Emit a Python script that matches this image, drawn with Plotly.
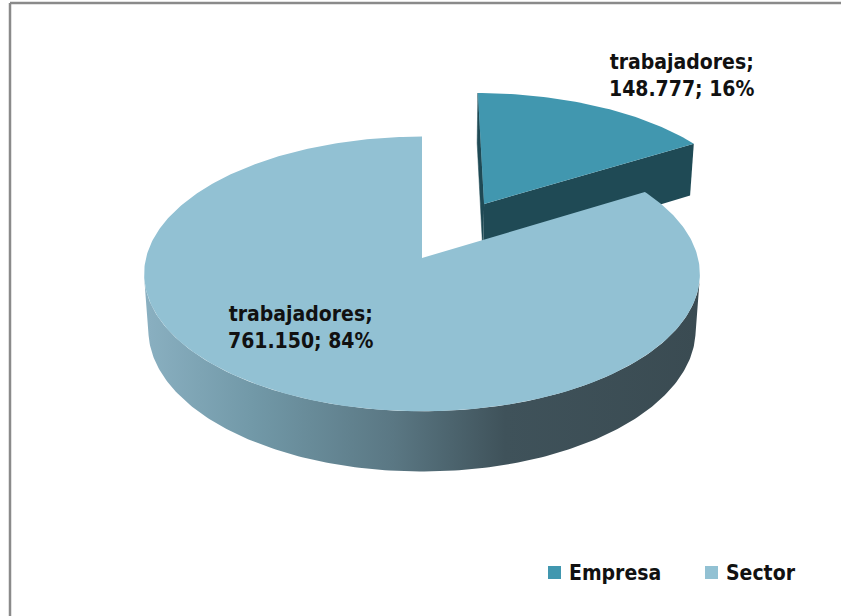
import numpy as np
import plotly.graph_objects as go

# datos
categorias = ["Empresa", "Sector"]
valores = [148777, 761150]
etiquetas = ["trabajadores;<br>148.777; 16%", "trabajadores;<br>761.150; 84%"]

colores_top = ["#4197af", "#92c1d3"]
color_cara_empresa = "#1f4a55"

# camara de la tarta 3D (perspectiva simple)
CX, CY = 422, 258
ALPHA = np.radians(29.4)
S, C = np.sin(ALPHA), np.cos(ALPHA)
D = 7.5
F = 2070
H = 0.235
EXPLODE = 0.48


def proj(X, Y, Z):
    depth = D - (Y * S + Z * C)
    sx = CX + F * X / depth
    sy = CY - F * (Y * C - Z * S) / depth
    return sx, sy


def rim(theta_deg, y=0.0, off=(0.0, 0.0)):
    t = np.radians(theta_deg)
    X = np.cos(t) + off[0]
    Z = -np.sin(t) + off[1]
    return proj(X, y * np.ones_like(X), Z)


total = sum(valores)
frac_emp = valores[0] / total
ang_fin = 90 - 360 * frac_emp  # Empresa: de 90 a ang_fin (sentido horario)

fig = go.Figure()

# ---------- Empresa (desplazada hacia atras) ----------
mid = np.radians((90 + ang_fin) / 2)
off = (EXPLODE * np.cos(mid), -EXPLODE * np.sin(mid))

# cara lateral fina en 90 grados
ax0, ay0 = proj(off[0], 0, off[1])
ax1, ay1 = proj(off[0], -H, off[1])
bx0, by0 = rim(np.array([90.0]), 0, off)
bx1, by1 = rim(np.array([90.0]), -H, off)
fig.add_trace(go.Scatter(
    x=[ax0, bx0[0], bx1[0], ax1], y=[ay0, by0[0], by1[0], ay1],
    fill="toself", mode="lines", line=dict(width=0.5, color=color_cara_empresa),
    fillcolor=color_cara_empresa, showlegend=False, hoverinfo="skip"))

# cara de corte en ang_fin
cx0, cy0 = rim(np.array([ang_fin]), 0, off)
cx1, cy1 = rim(np.array([ang_fin]), -H, off)
fig.add_trace(go.Scatter(
    x=[ax0, cx0[0], cx1[0], ax1], y=[ay0, cy0[0], cy1[0], ay1],
    fill="toself", mode="lines", line=dict(width=0),
    fillcolor=color_cara_empresa, showlegend=False, hoverinfo="skip"))

# superficie superior
th = np.linspace(90, ang_fin, 60)
rx, ry = rim(th, 0, off)
fig.add_trace(go.Scatter(
    x=np.concatenate([[ax0], rx, [ax0]]), y=np.concatenate([[ay0], ry, [ay0]]),
    fill="toself", mode="lines", line=dict(width=0),
    fillcolor=colores_top[0], showlegend=False, hoverinfo="skip"))

# ---------- Sector ----------
lim = np.degrees(np.arcsin(1 / (D * C)))
th_side = np.linspace(-180 + lim, -lim, 200)
tx, ty = rim(th_side, 0)
bx, by = rim(th_side, -H)
side_x = np.concatenate([tx, bx[::-1]])
side_y = np.concatenate([ty, by[::-1]])
fig.add_trace(go.Scatter(
    x=side_x, y=side_y, fill="toself", mode="lines", line=dict(width=0),
    fillgradient=dict(
        type="horizontal", start=float(side_x.min()), stop=float(side_x.max()),
        colorscale=[[0, "#8ab0c1"], [0.2, "#7198a7"], [0.45, "#5a7783"],
                    [0.65, "#3f525a"], [1, "#3a4b52"]]),
    showlegend=False, hoverinfo="skip"))

th = np.linspace(ang_fin, -270, 400)
sx, sy = rim(th, 0)
ox, oy = proj(0, 0, 0)
fig.add_trace(go.Scatter(
    x=np.concatenate([[ox], sx, [ox]]), y=np.concatenate([[oy], sy, [oy]]),
    fill="toself", mode="lines", line=dict(width=0),
    fillcolor=colores_top[1], showlegend=False, hoverinfo="skip"))

# leyenda hecha a mano (cuadro + texto)
fuente = dict(family="DejaVu Sans Condensed", size=21, color="#111111")
leg_x = [548, 705]
for nombre, col, lx in zip(categorias, colores_top, leg_x):
    fig.add_shape(type="rect", x0=lx, x1=lx + 13, y0=566, y1=579,
                  fillcolor=col, line=dict(width=0))
    fig.add_annotation(x=lx + 19, y=573, text="<b>" + nombre + "</b>", showarrow=False,
                       xanchor="left", yanchor="middle", font=fuente)

# etiquetas de datos
fig.add_annotation(x=681, y=75, text="<b>" + etiquetas[0] + "</b>", showarrow=False,
                   font=fuente, align="center")
fig.add_annotation(x=300, y=327, text="<b>" + etiquetas[1] + "</b>", showarrow=False,
                   font=fuente, align="center")

# marco (solo se ven los bordes izquierdo y superior)
fig.add_shape(type="line", x0=10, x1=10, y0=3, y1=616,
              line=dict(color="#8a8a8a", width=2.5), layer="below")
fig.add_shape(type="line", x0=10, x1=841, y0=3, y1=3,
              line=dict(color="#8a8a8a", width=2.5), layer="below")

fig.update_layout(
    width=842, height=616,
    margin=dict(l=0, r=0, t=0, b=0),
    paper_bgcolor="white", plot_bgcolor="white",
    xaxis=dict(range=[0, 842], visible=False, fixedrange=True),
    yaxis=dict(range=[616, 0], visible=False, fixedrange=True),
    showlegend=False,
)

fig.write_html(
    "out.html", config={"displayModeBar": False},
    post_script="document.body.style.margin='0';"
                "document.body.style.overflow='hidden';"
                "document.documentElement.style.overflow='hidden';")
